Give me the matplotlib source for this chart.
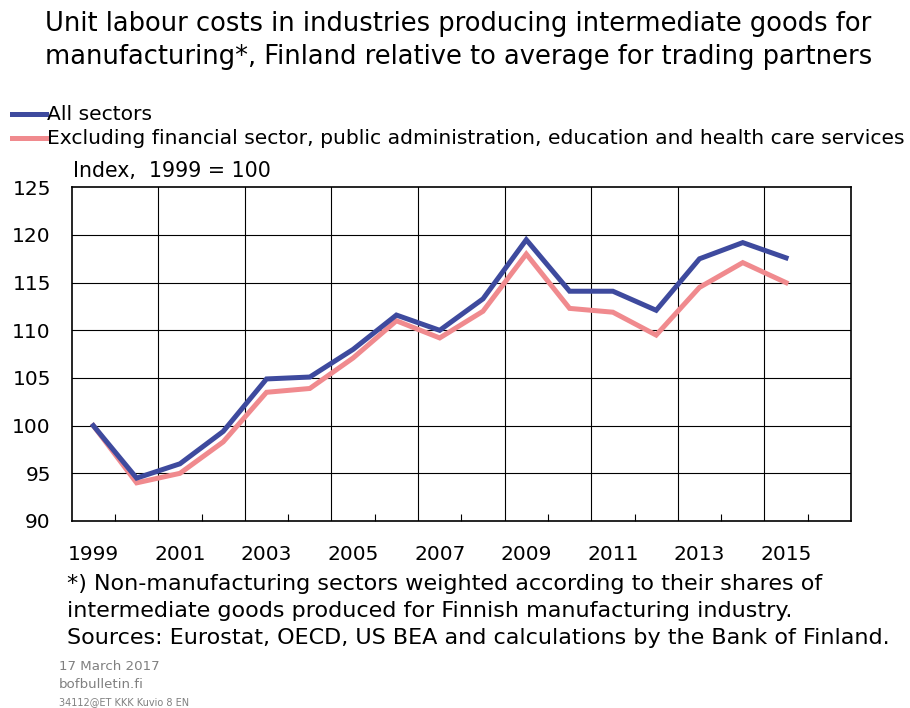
import numpy as np
import matplotlib.pyplot as plt
from matplotlib.ticker import FixedLocator

plt.rcParams['font.family'] = ['DejaVu Sans']

# Data (index, 1999 = 100)
years = [1999, 2000, 2001, 2002, 2003, 2004, 2005, 2006, 2007,
         2008, 2009, 2010, 2011, 2012, 2013, 2014, 2015]
all_sectors = [100.0, 94.5, 96.0, 99.4, 104.9, 105.1, 108.0, 111.6, 110.0,
               113.3, 119.5, 114.1, 114.1, 112.1, 117.5, 119.2, 117.6]
excl_sectors = [100.0, 94.0, 95.0, 98.3, 103.5, 103.9, 107.1, 111.0, 109.2,
                112.0, 118.0, 112.3, 111.9, 109.5, 114.5, 117.1, 115.0]
series_names = ['All sectors',
                'Excluding financial sector, public administration, education and health care services']
tick_years = [1999, 2001, 2003, 2005, 2007, 2009, 2011, 2013, 2015]
y_ticks = [90, 95, 100, 105, 110, 115, 120, 125]

blue = '#3e4a9e'
pink = '#f08a8e'
W, H = 910, 708

fig = plt.figure(figsize=(W / 100, H / 100), dpi=100)
ax = fig.add_axes([71.7 / W, 1 - 521 / H, (851 - 71.7) / W, (521 - 187.3) / H])

ax.plot(years, all_sectors, color=blue, lw=3.6, solid_joinstyle='miter', zorder=3)
ax.plot(years, excl_sectors, color=pink, lw=3.6, solid_joinstyle='miter', zorder=2)

ax.set_xlim(1998.5, 2016.5)
ax.set_ylim(90, 125)

# grid every second year at category boundaries, horizontal at every y tick
for gx in np.arange(2000.5, 2016, 2):
    ax.axvline(gx, color='black', lw=0.8, zorder=1)
for gy in y_ticks[1:-1]:
    ax.axhline(gy, color='black', lw=0.8, zorder=1)

ax.xaxis.set_major_locator(FixedLocator(tick_years))
ax.set_xticklabels([str(y) for y in tick_years], fontsize=14.5)
ax.tick_params(axis='x', which='major', length=0, pad=17)
ax.xaxis.set_minor_locator(FixedLocator(np.arange(1999.5, 2016, 2)))
ax.tick_params(axis='x', which='minor', direction='in', length=5, width=0.8)
ax.set_yticks(y_ticks)
ax.set_yticklabels([str(v) for v in y_ticks], fontsize=14.5)
ax.tick_params(axis='y', length=0, pad=15)
for s in ax.spines.values():
    s.set_linewidth(1.2)

# title
fig.text(45 / W, 1 - 24 / H, 'Unit labour costs in industries producing intermediate goods for',
         fontsize=18.5, va='center', ha='left')
fig.text(45 / W, 1 - 57 / H, 'manufacturing*, Finland relative to average for trading partners',
         fontsize=18.5, va='center', ha='left')

# legend
for yy, col, name in [(114, blue, series_names[0]), (138, pink, series_names[1])]:
    fig.add_artist(plt.Line2D([12 / W, 46 / W], [1 - yy / H, 1 - yy / H], color=col, lw=3.6))
    fig.text(47 / W, 1 - yy / H, name, fontsize=14.6, va='center', ha='left')

fig.text(73 / W, 1 - 171 / H, 'Index,  1999 = 100', fontsize=14.8, va='center', ha='left')

# footnotes
notes = ['*) Non-manufacturing sectors weighted according to their shares of',
         'intermediate goods produced for Finnish manufacturing industry.',
         'Sources: Eurostat, OECD, US BEA and calculations by the Bank of Finland.']
for i, line in enumerate(notes):
    fig.text(67 / W, 1 - (584 + 27 * i) / H, line, fontsize=16, va='center', ha='left')

fig.text(59 / W, 1 - 667 / H, '17 March 2017', fontsize=9.6, color='#808080', va='center')
fig.text(59 / W, 1 - 685 / H, 'bofbulletin.fi', fontsize=9.6, color='#808080', va='center')
fig.text(59 / W, 1 - 702 / H, '34112@ET KKK Kuvio 8 EN', fontsize=7.0, color='#808080', va='center')

fig.savefig('out.png', dpi=100)
